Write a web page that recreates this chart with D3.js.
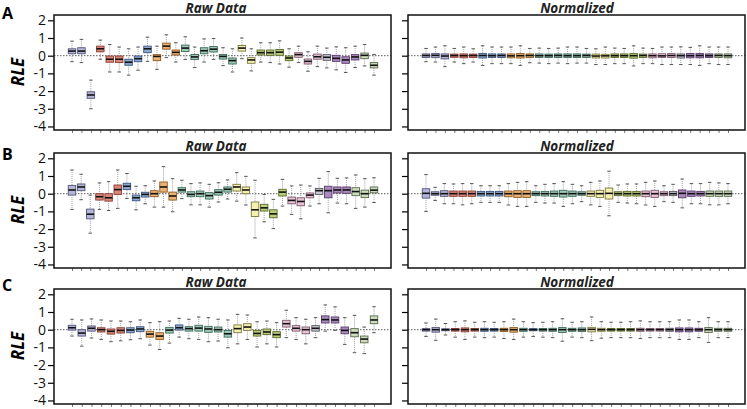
<!DOCTYPE html>
<html><head><meta charset="utf-8">
<script src="https://cdn.jsdelivr.net/npm/d3@7"></script>
<style>
body{margin:0;background:#fff;}
svg{display:block;}
text{font-family:"Open Sans",sans-serif;}
</style></head>
<body>
<svg id="chart" width="747" height="409"></svg>
<script>
// ---------- DATA ----------
const panelLetters = ["A","B","C"];
const panelTitles = ["Raw Data","Normalized"];
const yTickValues = [2,1,0,-1,-2,-3,-4];

// Row A (33 samples)
const groupsA = ["lav","lav","lav","red","red","red","blu","blu","blu","ora","ora","ora","tea","tea","tea","tea","tea","tea","yel","yel","oli","oli","oli","oli","pin","pin","pin","gry","pur","pur","pur","grn","grn"];
const rawMedA = [0.26,0.26,-2.22,0.39,-0.2,-0.2,-0.37,-0.17,0.39,-0.04,0.54,0.19,0.43,-0.07,0.28,0.37,-0.04,-0.28,0.43,-0.24,0.17,0.17,0.2,-0.13,0.06,-0.32,-0.06,-0.09,-0.15,-0.24,-0.07,0.02,-0.54];
const rawQ3A = [0.39,0.45,-2.04,0.54,-0.02,-0.02,-0.2,-0.02,0.54,0.06,0.71,0.32,0.6,0.07,0.45,0.52,0.07,-0.13,0.58,-0.11,0.32,0.32,0.35,-0.02,0.17,-0.19,0.09,0.06,0.02,-0.06,0.06,0.15,-0.39];
const rawQ1A = [0.11,0.11,-2.41,0.22,-0.37,-0.39,-0.54,-0.34,0.17,-0.28,0.37,0.04,0.24,-0.22,0.11,0.21,-0.19,-0.47,0.26,-0.43,0.04,0.02,0.02,-0.28,-0.09,-0.47,-0.2,-0.26,-0.32,-0.43,-0.24,-0.17,-0.69];
const rawHiA = [0.82,0.92,-1.38,0.88,0.63,0.49,0.39,0.49,1.05,0.54,1.18,0.73,1.07,0.49,0.95,0.97,0.45,0.39,1.0,0.39,0.73,0.73,0.84,0.39,0.54,0.22,0.54,0.43,0.5,0.45,0.54,0.63,0.07];
const rawLoA = [-0.34,-0.39,-3.0,-0.2,-0.92,-0.92,-1.1,-0.82,-0.32,-0.77,-0.11,-0.36,-0.21,-0.67,-0.36,-0.21,-0.56,-0.92,-0.17,-0.86,-0.36,-0.39,-0.47,-0.65,-0.39,-0.88,-0.62,-0.69,-0.8,-0.95,-0.67,-0.58,-1.1];
const normMedA = [0.01,0.02,-0.02,0.01,0,0.01,0.01,0,0.01,-0.01,0,0.01,0,0,0.01,0,0,0.01,-0.02,-0.01,0,0,0,0.01,0,-0.01,0.01,0,0,0.01,0,0.01,0];
const normQ3A = [0.1,0.13,0.1,0.09,0.1,0.09,0.13,0.1,0.1,0.1,0.12,0.1,0.1,0.09,0.1,0.1,0.1,0.09,0.09,0.08,0.1,0.1,0.12,0.09,0.1,0.11,0.12,0.1,0.12,0.12,0.1,0.1,0.1];
const normQ1A = [-0.1,-0.11,-0.18,-0.09,-0.12,-0.1,-0.13,-0.1,-0.1,-0.12,-0.13,-0.1,-0.1,-0.1,-0.1,-0.1,-0.1,-0.1,-0.13,-0.13,-0.1,-0.1,-0.14,-0.1,-0.12,-0.1,-0.1,-0.13,-0.12,-0.12,-0.1,-0.1,-0.12];
const normHiA = [0.41,0.49,0.56,0.41,0.49,0.39,0.56,0.49,0.49,0.49,0.56,0.41,0.43,0.41,0.43,0.49,0.49,0.41,0.39,0.49,0.43,0.41,0.56,0.43,0.41,0.49,0.49,0.5,0.47,0.56,0.49,0.49,0.49];
const normLoA = [-0.34,-0.36,-0.62,-0.36,-0.45,-0.36,-0.55,-0.45,-0.45,-0.45,-0.55,-0.4,-0.42,-0.45,-0.42,-0.45,-0.42,-0.42,-0.5,-0.5,-0.45,-0.45,-0.58,-0.45,-0.45,-0.5,-0.5,-0.5,-0.5,-0.55,-0.45,-0.5,-0.5];

// Row B (34 samples)
const groupsB = ["lav","lav","lav","red","red","red","blu","blu","blu","ora","ora","ora","tea","tea","tea","tea","tea","tea","yel","yel","yel","oli","oli","oli","pin","pin","pin","gry","pur","pur","pur","grn","grn","grn"];
const rawMedB = [0.21,0.38,-1.16,-0.17,-0.23,0.23,0.42,-0.23,-0.04,0,0.38,-0.13,0.21,-0.04,0,-0.11,0.08,0.25,0.38,0.21,-0.91,-0.8,-1.14,0.09,-0.38,-0.44,-0.08,0.17,0.17,0.21,0.21,0.12,0.0,0.2];
const rawQ3B = [0.47,0.55,-0.87,0,0,0.49,0.59,-0.08,0.08,0.17,0.66,0.09,0.34,0.11,0.15,0.06,0.23,0.38,0.53,0.38,-0.47,-0.6,-0.91,0.25,-0.19,-0.23,0.04,0.3,0.42,0.38,0.38,0.34,0.2,0.38];
const rawQ1B = [-0.08,0.17,-1.42,-0.36,-0.42,-0.04,0.23,-0.4,-0.19,-0.17,0.09,-0.36,0.09,-0.17,-0.17,-0.3,-0.08,0.09,0.15,0,-1.29,-0.98,-1.36,-0.13,-0.57,-0.68,-0.23,-0.04,-0.23,0.04,0.02,-0.11,-0.22,0.05];
const rawHiB = [1.34,1.1,-0.08,0.61,0.68,1.34,1.14,0.42,0.45,0.72,1.53,0.85,0.76,0.57,0.61,0.53,0.62,0.78,1.19,0.98,0.76,-0.04,-0.32,0.81,0.44,0.49,0.44,0.87,1.25,0.87,0.89,1.06,0.85,0.9];
const rawLoB = [-0.89,-0.34,-2.23,-0.89,-0.95,-0.83,-0.27,-0.91,-0.57,-0.76,-0.76,-1.02,-0.28,-0.63,-0.63,-0.76,-0.47,-0.3,-0.42,-0.64,-2.5,-1.59,-1.97,-0.7,-1.17,-1.42,-0.7,-0.57,-1.08,-0.53,-0.57,-0.83,-0.76,-0.5];
const normMedB = [0.02,0,0,0,0,0,0,0,0,0,0,0,0,0,0,0,0,0,0,0,0.02,0,0,0,0,0,0,0,0.02,0,0,0,0,0];
const normQ3B = [0.28,0.11,0.17,0.15,0.15,0.15,0.13,0.13,0.13,0.15,0.17,0.17,0.11,0.13,0.15,0.19,0.15,0.11,0.15,0.19,0.32,0.11,0.13,0.13,0.15,0.19,0.11,0.13,0.21,0.15,0.13,0.15,0.15,0.15];
const normQ1B = [-0.25,-0.09,-0.15,-0.15,-0.15,-0.15,-0.13,-0.13,-0.13,-0.17,-0.21,-0.21,-0.11,-0.13,-0.15,-0.19,-0.15,-0.09,-0.15,-0.21,-0.3,-0.11,-0.13,-0.13,-0.17,-0.21,-0.11,-0.11,-0.23,-0.15,-0.13,-0.15,-0.15,-0.15];
const normHiB = [1.08,0.36,0.57,0.55,0.57,0.57,0.45,0.45,0.45,0.57,0.64,0.68,0.45,0.53,0.57,0.68,0.53,0.45,0.64,0.72,1.27,0.49,0.55,0.55,0.64,0.72,0.45,0.53,0.83,0.57,0.57,0.64,0.61,0.57];
const normLoB = [-1.0,-0.38,-0.57,-0.57,-0.63,-0.57,-0.49,-0.49,-0.49,-0.64,-0.72,-0.72,-0.49,-0.53,-0.53,-0.72,-0.57,-0.45,-0.63,-0.72,-1.25,-0.49,-0.53,-0.57,-0.64,-0.72,-0.45,-0.49,-0.8,-0.57,-0.57,-0.63,-0.63,-0.57];

// Row C (32 samples)
const groupsC = ["lav","lav","lav","red","red","red","blu","blu","ora","ora","tea","blu","tea","tea","tea","tea","tea","yel","yel","oli","oli","oli","pin","pin","pin","gry","pur","pur","pur","grn","grn","grn"];
const rawMedC = [0.11,-0.19,0.08,0,-0.09,-0.04,-0.02,0.04,-0.25,-0.36,-0.02,0.11,0.06,0.09,0.04,0,-0.23,0.06,0.15,-0.21,-0.13,-0.28,0.34,0.08,0,0.08,0.57,0.55,-0.04,-0.17,-0.53,0.55];
const rawQ3C = [0.25,0,0.21,0.11,0.04,0.11,0.11,0.17,-0.09,-0.17,0.13,0.27,0.17,0.25,0.19,0.15,-0.04,0.27,0.34,-0.04,0.04,-0.11,0.53,0.23,0.15,0.23,0.78,0.72,0.15,0.06,-0.36,0.78];
const rawQ1C = [-0.02,-0.36,-0.08,-0.13,-0.25,-0.19,-0.17,-0.11,-0.42,-0.55,-0.19,-0.02,-0.08,-0.08,-0.15,-0.13,-0.42,-0.17,-0.04,-0.36,-0.28,-0.45,0.15,-0.08,-0.23,-0.08,0.38,0.38,-0.23,-0.4,-0.74,0.34];
const rawHiC = [0.59,0.55,0.61,0.55,0.49,0.49,0.45,0.55,0.4,0.45,0.49,0.64,0.59,0.72,0.68,0.59,0.55,0.87,0.83,0.45,0.49,0.4,1.1,0.68,0.59,0.68,1.4,1.29,0.68,0.81,0.15,1.3];
const rawLoC = [-0.36,-0.93,-0.47,-0.55,-0.68,-0.63,-0.57,-0.51,-0.87,-1.12,-0.76,-0.42,-0.51,-0.55,-0.68,-0.64,-1.02,-0.8,-0.55,-0.98,-0.8,-0.98,-0.45,-0.55,-0.8,-0.45,-0.08,-0.04,-0.83,-1.3,-1.35,-0.17];
const normMedC = [0,0,0,0,0,0,0,0,0,0,0,0,0,0,0,0,0,0.02,0,0,0,0,0,0,0,0,0,0,0,0,0,0];
const normQ3C = [0.06,0.12,0.05,0.07,0.1,0.07,0.08,0.07,0.08,0.12,0.08,0.06,0.07,0.08,0.12,0.08,0.1,0.13,0.08,0.07,0.07,0.07,0.08,0.07,0.07,0.08,0.1,0.1,0.08,0.12,0.08,0.08];
const normQ1C = [-0.08,-0.14,-0.06,-0.08,-0.12,-0.08,-0.09,-0.08,-0.1,-0.14,-0.09,-0.06,-0.08,-0.09,-0.16,-0.09,-0.1,-0.12,-0.09,-0.08,-0.08,-0.08,-0.09,-0.08,-0.08,-0.09,-0.12,-0.12,-0.09,-0.16,-0.09,-0.09];
const normHiC = [0.38,0.6,0.35,0.45,0.5,0.42,0.45,0.42,0.45,0.6,0.45,0.4,0.42,0.45,0.62,0.42,0.45,0.72,0.45,0.42,0.42,0.45,0.5,0.45,0.45,0.45,0.55,0.55,0.45,0.68,0.45,0.45];
const normLoC = [-0.38,-0.6,-0.3,-0.42,-0.55,-0.42,-0.45,-0.42,-0.5,-0.55,-0.42,-0.38,-0.42,-0.45,-0.65,-0.42,-0.45,-0.62,-0.48,-0.45,-0.45,-0.45,-0.5,-0.45,-0.45,-0.45,-0.55,-0.55,-0.45,-0.72,-0.45,-0.45];

// ---------- STYLE ----------
const fillColor = {lav:"#b5b5d8",red:"#d9877a",blu:"#8faad0",ora:"#ecb275",tea:"#9fcab7",yel:"#f4f0ae",oli:"#bacd7b",pin:"#eac2d6",gry:"#cbc8d4",pur:"#aa8bbe",grn:"#ccdcbc"};
const strokeColor = {lav:"#55557a",red:"#8c3b30",blu:"#3b5680",ora:"#8c5a1f",tea:"#3d6b5a",yel:"#7d7742",oli:"#5a6b28",pin:"#7c5a6c",gry:"#55555f",pur:"#583a6c",grn:"#5b6b4f"};

const rows = [
  {letter:panelLetters[0], top:15, letterY:18.5, groups:groupsA,
   raw:{med:rawMedA,q1:rawQ1A,q3:rawQ3A,lo:rawLoA,hi:rawHiA},
   norm:{med:normMedA,q1:normQ1A,q3:normQ3A,lo:normLoA,hi:normHiA}},
  {letter:panelLetters[1], top:153, letterY:160, groups:groupsB,
   raw:{med:rawMedB,q1:rawQ1B,q3:rawQ3B,lo:rawLoB,hi:rawHiB},
   norm:{med:normMedB,q1:normQ1B,q3:normQ3B,lo:normLoB,hi:normHiB}},
  {letter:panelLetters[2], top:289, letterY:291, groups:groupsC,
   raw:{med:rawMedC,q1:rawQ1C,q3:rawQ3C,lo:rawLoC,hi:rawHiC},
   norm:{med:normMedC,q1:normQ1C,q3:normQ3C,lo:normLoC,hi:normHiC}}
];

const panelH = 115;
const cols = [{x0:54, x1:391, key:"raw", labels:true, tx:216},{x0:408, x1:745, key:"norm", labels:false, tx:577}];

const svg = d3.select("#chart");

rows.forEach(row => {
  const y = d3.scaleLinear().domain([-4.2, 2.3]).range([row.top + panelH, row.top]);
  const n = row.groups.length;

  svg.append("text").attr("x", 2).attr("y", row.letterY)
    .attr("font-size", 16).attr("font-weight", 700).attr("font-family","Liberation Sans, Arial, sans-serif")
    .text(row.letter);

  svg.append("text")
    .attr("transform", `translate(24,${row.top + 57}) rotate(-90)`)
    .attr("text-anchor","middle").attr("font-size", 17).attr("font-weight",700).attr("font-style","italic")
    .text("RLE");

  cols.forEach((col, ci) => {
    const d = row[col.key];
    const x = d3.scalePoint().domain(d3.range(n)).range([col.x0 + 18, col.x1 - 17]);
    const g = svg.append("g");

    g.append("text").attr("x", col.tx).attr("y", row.top - 2)
      .attr("text-anchor","middle").attr("font-size", 13.5).attr("font-weight",700).attr("font-style","italic")
      .attr("font-family","Liberation Sans, Arial, sans-serif")
      .attr("fill","#222").text(panelTitles[ci]);

    const ya = d3.axisLeft(y).tickValues(yTickValues).tickSize(6).tickPadding(2)
      .tickFormat(col.labels ? (v => String(v)) : (() => ""));
    const yg = g.append("g").attr("transform", `translate(${col.x0},0)`).call(ya);
    yg.select(".domain").remove();
    yg.selectAll("line").attr("stroke","#000").attr("stroke-width",1.2);
    yg.selectAll("text").attr("font-size",14).attr("fill","#111").attr("font-family","Open Sans, sans-serif");

    const xa = d3.axisBottom(x).tickSize(3).tickFormat(() => "");
    const xg = g.append("g").attr("transform", `translate(0,${row.top + panelH})`).call(xa);
    xg.select(".domain").remove();
    xg.selectAll("line").attr("stroke","#555").attr("stroke-width",0.8);

    g.append("line").attr("x1", col.x0).attr("x2", col.x1)
      .attr("y1", y(0)).attr("y2", y(0))
      .attr("stroke","#333").attr("stroke-width",0.8).attr("stroke-dasharray","1.5,1.5");

    const bw = 7.5, cw = 3.5;
    const idx = d3.range(n);
    const bx = g.selectAll(".bx").data(idx).enter().append("g");
    bx.append("line").attr("x1", i => x(i)).attr("x2", i => x(i))
      .attr("y1", i => y(d.hi[i])).attr("y2", i => y(d.q3[i]))
      .attr("stroke","#888").attr("stroke-width",0.8).attr("stroke-dasharray","1,1");
    bx.append("line").attr("x1", i => x(i)).attr("x2", i => x(i))
      .attr("y1", i => y(d.q1[i])).attr("y2", i => y(d.lo[i]))
      .attr("stroke","#888").attr("stroke-width",0.8).attr("stroke-dasharray","1,1");
    bx.append("line").attr("x1", i => x(i) - cw/2).attr("x2", i => x(i) + cw/2)
      .attr("y1", i => y(d.hi[i])).attr("y2", i => y(d.hi[i]))
      .attr("stroke","#444").attr("stroke-width",0.9);
    bx.append("line").attr("x1", i => x(i) - cw/2).attr("x2", i => x(i) + cw/2)
      .attr("y1", i => y(d.lo[i])).attr("y2", i => y(d.lo[i]))
      .attr("stroke","#444").attr("stroke-width",0.9);
    bx.append("rect").attr("x", i => x(i) - bw/2).attr("width", bw)
      .attr("y", i => y(d.q3[i])).attr("height", i => Math.max(1.5, y(d.q1[i]) - y(d.q3[i])))
      .attr("fill", i => fillColor[row.groups[i]]).attr("stroke", i => strokeColor[row.groups[i]])
      .attr("stroke-width",0.9);
    bx.append("line").attr("x1", i => x(i) - bw/2).attr("x2", i => x(i) + bw/2)
      .attr("y1", i => y(d.med[i])).attr("y2", i => y(d.med[i]))
      .attr("stroke","#111").attr("stroke-width",1.6);

    g.append("rect").attr("x", col.x0).attr("y", row.top)
      .attr("width", col.x1 - col.x0).attr("height", panelH)
      .attr("fill","none").attr("stroke","#111").attr("stroke-width",1.5);
  });
});
</script>
</body></html>
